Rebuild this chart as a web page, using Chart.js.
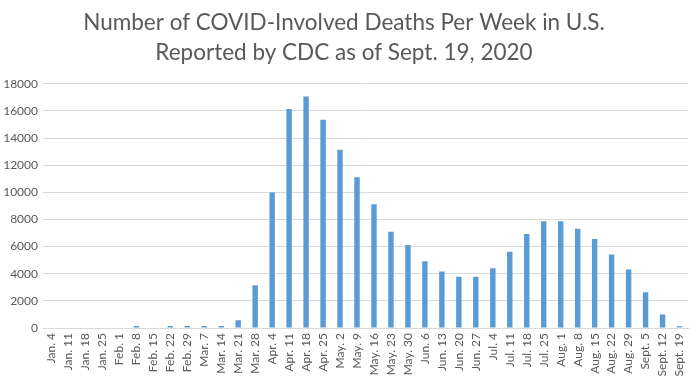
<!DOCTYPE html>
<html>
<head>
<meta charset="utf-8">
<script src="https://cdn.jsdelivr.net/npm/chart.js@4"></script>
<style>
  html, body { margin: 0; padding: 0; background: #ffffff; }
  #wrap { width: 700px; height: 380px; position: relative; }
</style>
</head>
<body>
<div id="wrap"><canvas id="c" width="700" height="380"></canvas></div>
<script>
const weeks = ["Jan. 4","Jan. 11","Jan. 18","Jan. 25","Feb. 1","Feb. 8","Feb. 15","Feb. 22","Feb. 29","Mar. 7","Mar. 14","Mar. 21","Mar. 28","Apr. 4","Apr. 11","Apr. 18","Apr. 25","May. 2","May. 9","May. 16","May. 23","May. 30","Jun. 6","Jun. 13","Jun. 20","Jun. 27","Jul. 4","Jul. 11","Jul. 18","Jul. 25","Aug. 1","Aug. 8","Aug. 15","Aug. 22","Aug. 29","Sept. 5","Sept. 12","Sept. 19"];
const deaths = [0,0,0,0,0,140,0,140,140,140,140,570,3160,9990,16150,17060,15360,13140,11120,9120,7100,6115,4930,4165,3770,3770,4410,5620,6930,7865,7865,7320,6560,5420,4310,2640,990,130];
const titleLines = ["Number of COVID-Involved Deaths Per Week in U.S.", "Reported by CDC as of Sept. 19, 2020"];
const yMax = 18000;
const yStep = 2000;

new Chart(document.getElementById('c'), {
  type: 'bar',
  data: {
    labels: weeks,
    datasets: [{
      data: deaths,
      backgroundColor: '#5b9bd5',
      borderWidth: 0,
      categoryPercentage: 1.0,
      barPercentage: 0.32
    }]
  },
  options: {
    responsive: false,
    animation: false,
    devicePixelRatio: 1,
    layout: { padding: { left: 0, right: 12, top: 4, bottom: 1 } },
    plugins: {
      legend: { display: false },
      tooltip: { enabled: false },
      title: {
        display: true,
        text: titleLines,
        color: '#595959',
        font: { family: 'Lato', size: 22.5, weight: 'normal', lineHeight: 1.33 },
        padding: { top: 4, bottom: 16 }
      }
    },
    scales: {
      x: {
        grid: { display: false, drawTicks: false },
        border: { display: true, color: '#d9d9d9', width: 1 },
        ticks: {
          autoSkip: false,
          minRotation: 90,
          maxRotation: 90,
          color: '#595959',
          font: { family: 'Lato', size: 12 },
          padding: 5
        },
        afterFit: function(s) { s.height = 51; }
      },
      y: {
        min: 0,
        max: yMax,
        grid: { color: '#d9d9d9', drawTicks: false },
        border: { display: false },
        ticks: {
          stepSize: yStep,
          color: '#595959',
          font: { family: 'Lato', size: 12 },
          padding: 5,
          callback: function(v) { return String(v); }
        },
        afterFit: function(s) { s.width = 43; }
      }
    }
  }
});
</script>
</body>
</html>
